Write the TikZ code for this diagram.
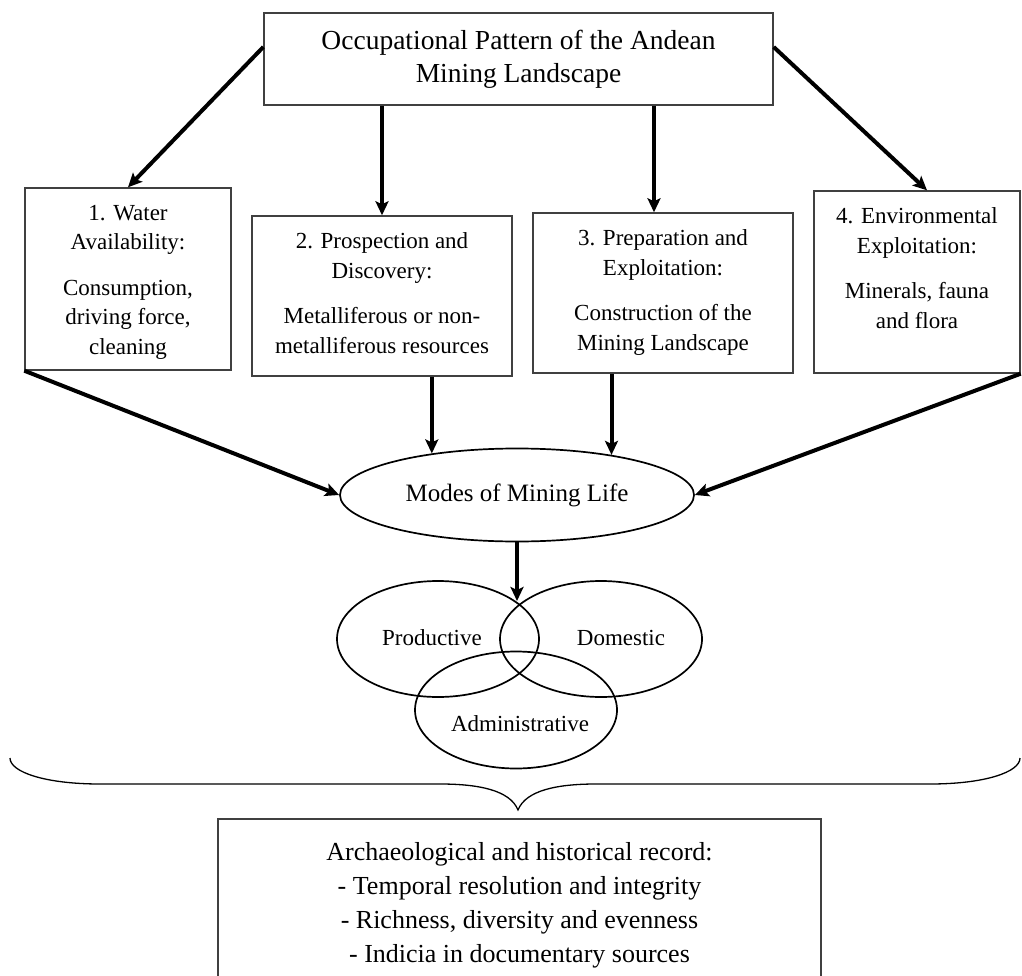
\documentclass[tikz,border=0pt]{standalone}
\usepackage{amsmath, amsfonts}
\usepackage{fontspec}
\setmainfont{Liberation Serif}
\usepackage{tikz}
\usetikzlibrary{arrows.meta, shapes.geometric, positioning}
\usetikzlibrary{calc}

\newcommand{\boxtxt}[3]{\parbox[c][#1][t]{#2}{\centering #3}}

\begin{document}
\begin{tikzpicture}[x=1pt, y=-1pt,
	box/.style={draw=black!75, line width=1.4pt, inner xsep=6pt, inner ysep=17pt},
	arr/.style={-{Stealth[length=14pt,width=13pt,inset=3pt]}, line width=4pt},
	oval/.style={ellipse, draw, line width=1.7pt, inner sep=0pt},
	boxfont/.style={font=\fontsize{23}{29.5}\selectfont},
	vennfont/.style={font=\fontsize{23}{27}\selectfont}]
	\path[use as bounding box, clip] (0,0) rectangle (1022,976);

		\draw (518.5,59) node[box, inner sep=0pt, minimum width=509pt, minimum height=92pt, align=center, font=\fontsize{27.5}{33}\selectfont] (top) {Occupational Pattern of the Andean\\ Mining Landscape}
		(128,279) node[box, boxfont] (wat) {\boxtxt{148pt}{194pt}{1. Water\\ Availability:\\[16pt] Consumption,\\ driving force,\\ cleaning}}
		(382,296) node[box, boxfont] (pros) {\boxtxt{126pt}{248pt}{2. Prospection and\\ Discovery:\\[16pt] Metalliferous or non-\\ metalliferous resources}}
		(663,293) node[box, boxfont] (prep) {\boxtxt{126pt}{248pt}{3. Preparation and\\ Exploitation:\\[16pt] Construction of the\\ Mining Landscape}}
		(917,282) node[box, boxfont] (env) {\boxtxt{148pt}{194pt}{4. Environmental\\ Exploitation:\\[16pt] Minerals, fauna\\ and flora}}
		(517,495) node[oval, minimum width=354pt, minimum height=93pt, font=\fontsize{25}{30}\selectfont] (modes) {Modes of Mining Life}
		(438,639) node[oval, minimum width=202pt, minimum height=116pt] (prod) {}
		(601,639) node[oval, minimum width=202pt, minimum height=116pt] (dom) {}
		(516,710) node[oval, minimum width=202pt, minimum height=117pt] (adm) {}
		(432,638) node[vennfont] (prodlbl) {Productive}
		(621,638) node[vennfont] (domlbl) {Domestic}
		(520,724) node[vennfont] (admlbl) {Administrative}
		(519.5,905) node[box, minimum width=603pt, minimum height=172pt, align=center, font=\fontsize{26}{34}\selectfont] (rec) {Archaeological and historical record:\\ - Temporal resolution and integrity\\ - Richness, diversity and evenness\\ - Indicia in documentary sources};

		\coordinate (meet) at (517,601);

		\draw[arr] ([yshift=12pt]top.west) -- (wat.north);
		\draw[arr] (top.south -| pros.north) -- (pros.north);
		\draw[arr] ([xshift=-9pt]top.south -| prep.north) -- ([xshift=-9pt]prep.north);
		\draw[arr] ([yshift=12pt]top.east) -- ([xshift=10pt]env.north);
		\draw[arr] (wat.south west) -- (modes.west);
		\draw[arr] (modes.154 |- pros.south) -- (modes.154);
		\draw[arr] (modes.23 |- prep.south) -- (modes.23);
		\draw[arr] (env.south east) -- (modes.east);
		\draw[arr] (modes.south) -- (meet);

		% brace over the modes
		\draw[line width=1.3pt] (10,758) .. controls (10,772) and (45,784) .. (100,784) -- (440,784)
			.. controls (478,784) and (510,790) .. (518,810)
			.. controls (526,790) and (558,784) .. (596,784) -- (930,784)
			.. controls (985,784) and (1020,772) .. (1020,758);
	\end{tikzpicture}
\end{document}
